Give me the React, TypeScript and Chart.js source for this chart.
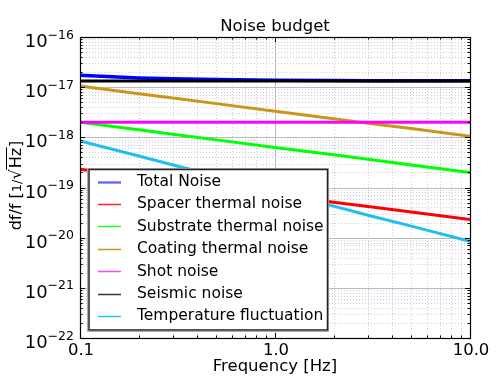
import React, { useEffect, useRef } from "react";
import { Chart, registerables } from "chart.js";

Chart.register(...registerables);

const FREQ = [0.1, 0.2, 0.3, 0.5, 1, 2, 3, 5, 10];
const TOTAL = [1.73e-17, 1.53e-17, 1.47e-17, 1.42e-17, 1.38e-17, 1.355e-17, 1.35e-17, 1.345e-17, 1.34e-17];
const SPACER = [2.3e-19, 1.63e-19, 1.33e-19, 1.03e-19, 7.3e-20, 5.1e-20, 4.2e-20, 3.25e-20, 2.3e-20];
const SUBSTRATE = [2.0e-18, 1.41e-18, 1.15e-18, 8.9e-19, 6.3e-19, 4.5e-19, 3.65e-19, 2.8e-19, 2.0e-19];
const COATING = [1.05e-17, 7.4e-18, 6.1e-18, 4.7e-18, 3.3e-18, 2.35e-18, 1.9e-18, 1.5e-18, 1.05e-18];
const SHOT = [2.0e-18, 2.0e-18, 2.0e-18, 2.0e-18, 2.0e-18, 2.0e-18, 2.0e-18, 2.0e-18, 2.0e-18];
const SEISMIC = [1.32e-17, 1.32e-17, 1.32e-17, 1.32e-17, 1.32e-17, 1.32e-17, 1.32e-17, 1.32e-17, 1.32e-17];
const TEMPERATURE = [8.5e-19, 4.25e-19, 2.8e-19, 1.7e-19, 8.5e-20, 4.25e-20, 2.8e-20, 1.7e-20, 8.5e-21];

const SERIES_NAMES = [
  "Total Noise",
  "Spacer thermal noise",
  "Substrate thermal noise",
  "Coating thermal noise",
  "Shot noise",
  "Seismic noise",
  "Temperature fluctuation",
];
const SERIES_VALUES = [TOTAL, SPACER, SUBSTRATE, COATING, SHOT, SEISMIC, TEMPERATURE];
const SERIES_COLORS = ["#0000ff", "#ff0000", "#00ff00", "#c89618", "#ff00ff", "#000000", "#1ebef0"];
const LEGEND_COLORS = ["#5c5cff", "#ff2020", "#20ff20", "#c89618", "#ff40ff", "#333333", "#1ec8f0"];

const X_TICKS = [0.1, 1, 10];
const X_TICK_LABELS = ["0.1", "1.0", "10.0"];
const Y_EXPONENTS = [-22, -21, -20, -19, -18, -17, -16];

const FONT = "'DejaVu Sans', sans-serif";

const decoPlugin = {
  id: "deco",
  beforeDatasetsDraw(chart: any) {
    const { ctx, chartArea: a, scales } = chart;
    const xs = scales.x;
    const ys = scales.y;
    ctx.save();
    ctx.beginPath();
    ctx.rect(a.left, a.top, a.right - a.left, a.bottom - a.top);
    ctx.clip();
    // minor grid
    ctx.strokeStyle = "rgba(160,160,190,0.55)";
    ctx.lineWidth = 1;
    ctx.setLineDash([1, 2]);
    for (const d of [0.1, 1]) {
      for (let m = 2; m <= 9; m++) {
        const px = Math.round(xs.getPixelForValue(d * m)) + 0.5;
        ctx.beginPath();
        ctx.moveTo(px, a.top);
        ctx.lineTo(px, a.bottom);
        ctx.stroke();
      }
    }
    for (let e = -22; e < -16; e++) {
      for (let m = 2; m <= 9; m++) {
        const py = Math.round(ys.getPixelForValue(m * Math.pow(10, e))) + 0.5;
        ctx.beginPath();
        ctx.moveTo(a.left, py);
        ctx.lineTo(a.right, py);
        ctx.stroke();
      }
    }
    // major grid
    ctx.setLineDash([]);
    ctx.strokeStyle = "#b8b8c4";
    const px1 = Math.round(xs.getPixelForValue(1)) + 0.5;
    ctx.beginPath();
    ctx.moveTo(px1, a.top);
    ctx.lineTo(px1, a.bottom);
    ctx.stroke();
    for (const e of Y_EXPONENTS) {
      const py = Math.round(ys.getPixelForValue(Math.pow(10, e))) + 0.5;
      ctx.beginPath();
      ctx.moveTo(a.left, py);
      ctx.lineTo(a.right, py);
      ctx.stroke();
    }
    ctx.restore();
  },
  afterDatasetsDraw(chart: any) {
    const { ctx, chartArea: a, scales } = chart;
    const xs = scales.x;
    const ys = scales.y;
    ctx.save();
    // ticks
    ctx.strokeStyle = "#000";
    ctx.lineWidth = 1;
    for (const d of [0.1, 1]) {
      for (let m = 1; m <= 10; m++) {
        const v = d * m;
        if (v > 10) continue;
        const len = m === 1 || m === 10 ? 5 : 2.5;
        const px = Math.round(xs.getPixelForValue(v)) + 0.5;
        ctx.beginPath();
        ctx.moveTo(px, a.bottom);
        ctx.lineTo(px, a.bottom - len);
        ctx.moveTo(px, a.top);
        ctx.lineTo(px, a.top + len);
        ctx.stroke();
      }
    }
    for (let e = -22; e < -16; e++) {
      for (let m = 1; m <= 9; m++) {
        const len = m === 1 ? 5 : 2.5;
        const py = Math.round(ys.getPixelForValue(m * Math.pow(10, e))) + 0.5;
        ctx.beginPath();
        ctx.moveTo(a.left, py);
        ctx.lineTo(a.left + len, py);
        ctx.moveTo(a.right, py);
        ctx.lineTo(a.right - len, py);
        ctx.stroke();
      }
    }
    // frame
    ctx.strokeStyle = "#000";
    ctx.lineWidth = 1.2;
    ctx.strokeRect(Math.round(a.left) + 0.5, Math.round(a.top) + 0.5, Math.round(a.right - a.left), Math.round(a.bottom - a.top));

    // legend
    const lx = 88, ly = 169, lw = 240, lh = 162;
    ctx.fillStyle = "#ffffff";
    ctx.fillRect(lx, ly, lw, lh);
    ctx.strokeStyle = "#b0b0b0";
    ctx.lineWidth = 1;
    ctx.strokeRect(lx - 0.5, ly - 0.5, lw + 1, lh + 1);
    ctx.strokeStyle = "#222";
    ctx.lineWidth = 1.5;
    ctx.strokeRect(lx + 1, ly + 0.5, lw - 1.5, lh - 1.5);
    ctx.font = `15.5px ${FONT}`;
    ctx.textBaseline = "middle";
    ctx.textAlign = "left";
    SERIES_NAMES.forEach((name, i) => {
      const cy = 181.5 + i * 22.4;
      ctx.strokeStyle = LEGEND_COLORS[i];
      ctx.lineWidth = i === 0 ? 2.2 : 1.5;
      ctx.beginPath();
      ctx.moveTo(98, Math.round(cy) + 0.5);
      ctx.lineTo(121, Math.round(cy) + 0.5);
      ctx.stroke();
      ctx.fillStyle = "#000";
      ctx.fillText(name, 137, cy + 0.5);
    });
    ctx.restore();
  },
  afterDraw(chart: any) {
    const { ctx, chartArea: a, scales } = chart;
    const xs = scales.x;
    const ys = scales.y;
    ctx.save();
    ctx.fillStyle = "#000";
    // title
    ctx.font = `16.5px ${FONT}`;
    ctx.textAlign = "center";
    ctx.textBaseline = "alphabetic";
    ctx.fillText("Noise budget", (a.left + a.right) / 2, 31);
    // x tick labels
    ctx.font = `16.5px ${FONT}`;
    X_TICKS.forEach((v, i) => {
      ctx.fillText(X_TICK_LABELS[i], xs.getPixelForValue(v) + 1, 355);
    });
    // x title
    ctx.font = `16.5px ${FONT}`;
    ctx.fillText("Frequency [Hz]", (a.left + a.right) / 2, 371);
    // y tick labels
    ctx.textAlign = "left";
    for (const e of Y_EXPONENTS) {
      const py = ys.getPixelForValue(Math.pow(10, e));
      const sup = "\u2212" + String(Math.abs(e));
      ctx.font = `12.5px ${FONT}`;
      const ws = ctx.measureText(sup).width;
      ctx.font = `18px ${FONT}`;
      const wb = ctx.measureText("10").width;
      const right = 74;
      const x0 = right - ws - wb;
      ctx.fillText("10", x0, py + 10);
      ctx.font = `12.5px ${FONT}`;
      ctx.fillText(sup, x0 + wb, py + 1.5);
    }
    // y title
    ctx.translate(21, (a.top + a.bottom) / 2 - 2);
    ctx.rotate(-Math.PI / 2);
    const p1 = "df/f [";
    const p2 = "1/";
    const p3 = "\u221A";
    const p4 = "Hz";
    const p5 = "]";
    ctx.font = `16px ${FONT}`;
    const w1 = ctx.measureText(p1).width;
    const w5 = ctx.measureText(p5).width;
    ctx.font = `13px ${FONT}`;
    const w2 = ctx.measureText(p2).width;
    ctx.font = `16px ${FONT}`;
    const w3 = ctx.measureText(p3).width;
    const w4 = ctx.measureText(p4).width;
    const total = w1 + w2 + w3 + w4 + w5 + 2;
    let x = -total / 2;
    ctx.textAlign = "left";
    ctx.fillText(p1, x, 0);
    x += w1;
    ctx.font = `13px ${FONT}`;
    ctx.fillText(p2, x, 0);
    x += w2;
    ctx.font = `16px ${FONT}`;
    ctx.fillText(p3, x, 0);
    x += w3;
    ctx.fillText(p4, x + 1, 0);
    ctx.strokeStyle = "#000";
    ctx.lineWidth = 1;
    ctx.beginPath();
    ctx.moveTo(x - 0.5, -14.5);
    ctx.lineTo(x + w4 + 1.5, -14.5);
    ctx.stroke();
    x += w4 + 2;
    ctx.fillText(p5, x, 0);
    ctx.restore();
  },
};

export default function App() {
  const ref = useRef<HTMLCanvasElement | null>(null);
  useEffect(() => {
    if (!ref.current) return;
    const n = SERIES_NAMES.length;
    const chart = new Chart(ref.current, {
      type: "line",
      data: {
        datasets: SERIES_NAMES.map((name, i) => ({
          label: name,
          data: FREQ.map((f, k) => ({ x: f, y: SERIES_VALUES[i][k] })),
          borderColor: SERIES_COLORS[i],
          backgroundColor: SERIES_COLORS[i],
          borderWidth: i === 0 ? 3.5 : 3,
          pointRadius: 0,
          fill: false,
          tension: 0,
          order: n - i,
        })),
      },
      options: {
        animation: false,
        responsive: false,
        maintainAspectRatio: false,
        layout: { padding: { top: 37, right: 30, left: 0, bottom: 0 } },
        plugins: {
          legend: { display: false },
          title: { display: false },
          tooltip: { enabled: false },
        },
        scales: {
          x: {
            type: "logarithmic",
            min: 0.1,
            max: 10,
            grid: { display: false },
            border: { display: false },
            ticks: { display: false },
            afterBuildTicks: (s: any) => {
              s.ticks = X_TICKS.map((v) => ({ value: v }));
            },
            afterFit: (s: any) => {
              s.height = 39;
            },
          },
          y: {
            type: "logarithmic",
            min: 1e-22,
            max: 1e-16,
            grid: { display: false },
            border: { display: false },
            ticks: { display: false },
            afterBuildTicks: (s: any) => {
              s.ticks = Y_EXPONENTS.map((e) => ({ value: Math.pow(10, e) }));
            },
            afterFit: (s: any) => {
              s.width = 80;
            },
          },
        },
      },
      plugins: [decoPlugin],
    });
    return () => chart.destroy();
  }, []);
  return (
    <div style={{ position: "fixed", left: 0, top: 0, width: 500, height: 377, background: "#fff" }}>
      <canvas ref={ref} width={500} height={377} style={{ width: 500, height: 377, display: "block" }} />
    </div>
  );
}
